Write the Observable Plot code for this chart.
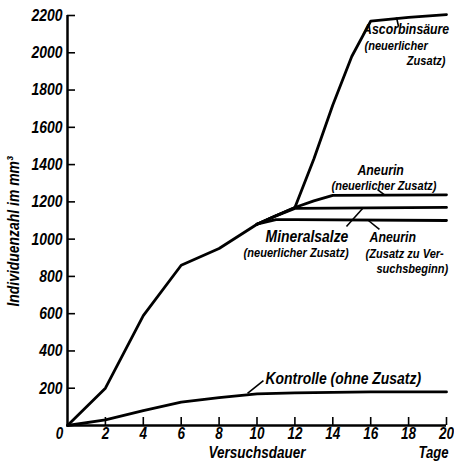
<!DOCTYPE html>
<html><head><meta charset="utf-8">
<script src="https://cdn.jsdelivr.net/npm/d3@7"></script>
<script src="https://cdn.jsdelivr.net/npm/@observablehq/plot@0.6"></script>
<style>body{margin:0;background:#fff}</style>
</head><body><div id="chart"></div>
<script>
// ---- data ----
const xTicks = [0,2,4,6,8,10,12,14,16,18,20];
const yTicks = [0,200,400,600,800,1000,1200,1400,1600,1800,2000,2200];

const kontrolleDays   = [0,2,4,6,8,10,12,14,16,18,20];
const kontrolleValues = [0,30,80,125,150,170,175,178,180,180,180];

const commonDays   = [0,2,4,6,8,10];
const commonValues = [0,200,590,860,950,1080];

const aneurinStartDays   = [10,11,12,20];
const aneurinStartValues = [1080,1105,1105,1100];

const mineralDays   = [10,11,12,20];
const mineralValues = [1080,1125,1165,1170];

const aneurinNeuDays   = [10,11,12,13,14,20];
const aneurinNeuValues = [1080,1125,1170,1205,1235,1238];

const ascorbinDays   = [10,11,12,13,14,15,16,18,20];
const ascorbinValues = [1080,1125,1170,1430,1720,1980,2170,2190,2205];

// ---- build series table ----
function series(name, days, values){ return days.map((d,i)=>({name, day:d, value:values[i]})); }
const lines = [
  ...series("Kontrolle", kontrolleDays, kontrolleValues),
  ...series("Gemeinsam", commonDays, commonValues),
  ...series("Aneurin Beginn", aneurinStartDays, aneurinStartValues),
  ...series("Mineralsalze", mineralDays, mineralValues),
  ...series("Aneurin neu", aneurinNeuDays, aneurinNeuValues),
  ...series("Ascorbinsäure", ascorbinDays, ascorbinValues)
];

// annotation anchors (data coordinates)
const largeLabels = [
  {t:"Mineralsalze", x:10.45, y:1014},
  {t:"Kontrolle (ohne Zusatz)", x:10.45, y:252}
];
const mediumLabels = [
  {t:"Ascorbinsäure", x:15.6, y:2128},
  {t:"Aneurin", x:15.3, y:1372},
  {t:"Aneurin", x:15.94, y:1012}
];
const smallLabels = [
  {t:"(neuerlicher", x:15.67, y:2040},
  {t:"(neuerlicher Zusatz)", x:13.93, y:1286},
  {t:"(neuerlicher Zusatz)", x:9.29, y:926},
  {t:"(Zusatz zu Ver-", x:15.73, y:921},
  {t:"suchsbeginn)", x:16.3, y:840}
];
const endLabels = [
  {t:"Zusatz)", x:19.95, y:1958}
];
const leaders = [
  {x1:10.34, y1:241, x2:9.50, y2:172},
  {x1:14.72, y1:1068, x2:15.62, y2:1170},
  {x1:16.46, y1:1052, x2:15.88, y2:1100},
  {x1:16.36, y1:1266, x2:16.73, y2:1238},
  {x1:17.47, y1:2141, x2:17.36, y2:2190}
];

const FONT = "'Liberation Sans', Arial, sans-serif";
const TXT = {fontFamily: FONT, fontStyle: "italic", fontWeight: "bold"};

const chart = Plot.plot({
  width: 454, height: 462,
  marginLeft: 67, marginRight: 8, marginTop: 15, marginBottom: 37,
  x: {domain: [0,20], axis: null},
  y: {domain: [0,2200], axis: null},
  style: {fontFamily: FONT, fontStyle: "italic", fontWeight: "bold", color: "#000", background: "#fff"},
  marks: [
    Plot.ruleY([0], {x1: 0, x2: 20, strokeWidth: 2.5}),
    Plot.ruleX([0], {y1: 0, y2: 2200, strokeWidth: 2.5}),
    Plot.ruleX(xTicks.filter(d => d > 0), {x: d => d, y1: 0, y2: 0, insetBottom: 8, strokeWidth: 1.6}),
    Plot.ruleY(yTicks.filter(d => d > 0), {y: d => d, x1: 0, x2: 0, insetLeft: 8, strokeWidth: 1.6}),
    Plot.axisX(xTicks.filter(d => d > 0), {tickSize: 0, tickPadding: 2, tickFormat: d => String(d), fontSize: 16.5, ...TXT, label: null}),
    Plot.axisY(yTicks.filter(d => d > 0), {tickSize: 0, tickPadding: 5, tickFormat: d => String(d), fontSize: 17, ...TXT, label: null}),
    Plot.text(["0"], {frameAnchor: "bottom-left", dx: -8, dy: 2, lineAnchor: "top", textAnchor: "middle", fontSize: 16.5, ...TXT}),
    Plot.line(lines, {x: "day", y: "value", z: "name", stroke: "#000", strokeWidth: 2.8, strokeLinejoin: "round", strokeLinecap: "round"}),
    Plot.link(leaders, {x1: "x1", y1: "y1", x2: "x2", y2: "y2", stroke: "#000", strokeWidth: 1.6}),
    Plot.text(largeLabels, {x: "x", y: "y", text: "t", textAnchor: "start", fontSize: 17, ...TXT}),
    Plot.text(mediumLabels, {x: "x", y: "y", text: "t", textAnchor: "start", fontSize: 15, ...TXT}),
    Plot.text(smallLabels, {x: "x", y: "y", text: "t", textAnchor: "start", fontSize: 13.5, ...TXT}),
    Plot.text(endLabels, {x: "x", y: "y", text: "t", textAnchor: "end", fontSize: 13.5, ...TXT}),
    Plot.text(["Versuchsdauer"], {frameAnchor: "bottom", dy: 32, fontSize: 16.5, ...TXT}),
    Plot.text(["Tage"], {frameAnchor: "bottom-right", textAnchor: "end", dx: 2, dy: 32, fontSize: 16, ...TXT}),
    Plot.text(["Individuenzahl im mm³"], {frameAnchor: "left", textAnchor: "middle", rotate: -90, dx: -54, dy: 11, fontSize: 17, ...TXT})
  ]
});
// condense the lettering like the original's narrow typeface
chart.querySelectorAll("text").forEach(t => {
  const tr = t.getAttribute("transform") || "";
  t.setAttribute("transform", tr + " scale(0.82,1)");
});
document.getElementById("chart").appendChild(chart);
</script>
</body></html>
